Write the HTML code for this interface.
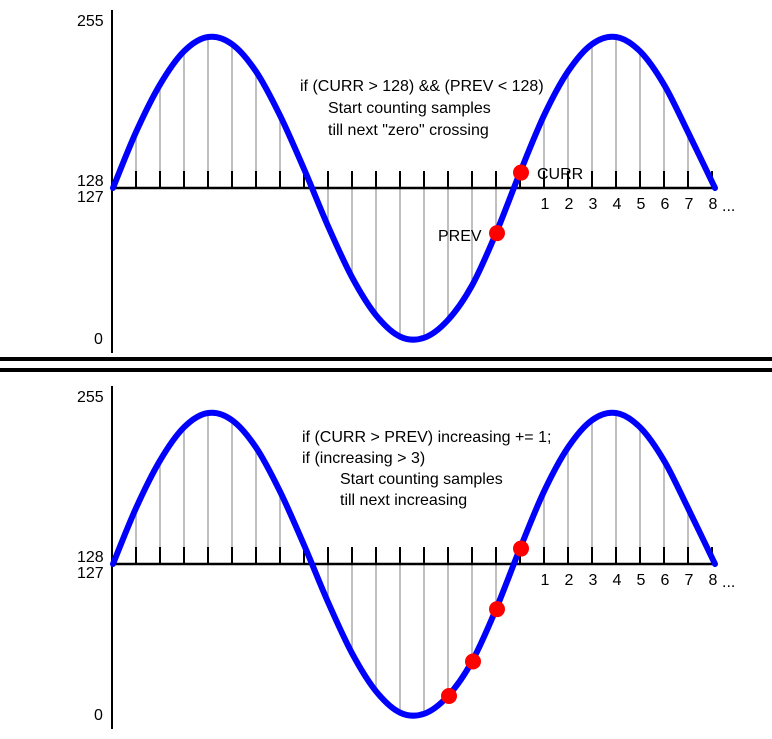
<!DOCTYPE html>
<html><head><meta charset="utf-8"><style>
body{margin:0;background:#fff;}
svg{display:block;font-family:"Liberation Sans",Arial,sans-serif;}
</style></head><body>
<svg id="c" width="772" height="739" viewBox="0 0 772 739">
<g>
<rect x="0" y="357" width="772" height="4" fill="#000"/>
<rect x="0" y="368" width="772" height="4" fill="#000"/>
</g>
</svg>
<script>
const sampleIndex=[0,1,2,3,4,5,6,7,8,9,10,11,12,13,14,15,16,17,18,19,20,21,22,23,24,25];
const sampleValues=[128,175,215,243,255,249,226,189,144,96,53,21,3,2,17,46,90,141,189,226,249,255,243,215,175,128];
const countLabels=["1","2","3","4","5","6","7","8"];
const topDots=[16,17];
const bottomDots=[14,15,16,17];
const topText=["if (CURR > 128) && (PREV < 128)","Start counting samples","till next \"zero\" crossing"];
const bottomText=["if (CURR > PREV) increasing += 1;","if (increasing > 3)","Start counting samples","till next increasing"];

const NS="http://www.w3.org/2000/svg";
const svg=document.getElementById('c');
function mk(t,a,p){const e=document.createElementNS(NS,t);for(const k in a)e.setAttribute(k,a[k]);(p||svg).appendChild(e);return e;}
const xs=i=>112+24*i;
function panel(off,name,dots,texts,textPos){
  const base=188+off;
  const ys=v=>base-(v-128)*151/127;
  const g=mk('g',{});
  
  
  sampleIndex.forEach(i=>{ if(i===0||i===25)return;
    const l=mk('line',{x1:xs(i),x2:xs(i),y1:base,y2:ys(sampleValues[i]),stroke:'#aaa','stroke-width':1.5},g);
    
    
  });
  sampleIndex.forEach(i=>{ if(i===0)return;
    const t=mk('line',{x1:xs(i),x2:xs(i),y1:base,y2:base-17,stroke:'#000','stroke-width':2},g);
    
    
  });
  const bl=mk('line',{x1:112,x2:714,y1:base,y2:base,stroke:'#000','stroke-width':2.5},g);
  
  
  const ax=mk('line',{x1:112,x2:112,y1:10+off,y2:353+off,stroke:'#000','stroke-width':2},g);
  
  
  const P=sampleIndex.map(i=>[xs(i)+(i===0?1:0)+(i===25?3:0),ys(sampleValues[i])]);
  let d='M'+P[0][0]+','+P[0][1];
  for(let i=0;i<P.length-1;i++){
    const p0=P[Math.max(0,i-1)],p1=P[i],p2=P[i+1],p3=P[Math.min(P.length-1,i+2)];
    d+=' C'+(p1[0]+(p2[0]-p0[0])/6)+','+(p1[1]+(p2[1]-p0[1])/6)+' '+(p2[0]-(p3[0]-p1[0])/6)+','+(p2[1]-(p3[1]-p1[1])/6)+' '+p2[0]+','+p2[1];
  }
  const cv=mk('path',{d:d,fill:'none',stroke:'#0000ff','stroke-width':6,'stroke-linecap':'round'},g);
  
  
  dots.forEach(i=>{
    const c=mk('circle',{cx:xs(i)+1,cy:ys(sampleValues[i]),r:8,fill:'#ff0000'},g);
    
    
  });
  const yl=[["255",77,26],["128",77,186],["127",77,202],["0",94,344]];
  yl.forEach(a=>{const t=mk('text',{x:a[1],y:a[2]+off,'font-size':16,fill:'#000'},g);t.textContent=a[0];
    
    });
  countLabels.forEach((s,k)=>{const t=mk('text',{x:xs(18+k)+1,y:base+21,'font-size':16,fill:'#000','text-anchor':'middle'},g);t.textContent=s;
    
    });
  const dt=mk('text',{x:722,y:base+23,'font-size':16,fill:'#000'},g);dt.textContent='...';
  
  
  texts.forEach((s,k)=>{const t=mk('text',{x:textPos[k][0],y:textPos[k][1]+off,'font-size':16,fill:'#000'},g);t.textContent=s;
    
    });
  return g;
}
panel(0,'top-panel',topDots,topText,[[300,91],[328,113],[328,135]]);
panel(376,'bottom-panel',bottomDots,bottomText,[[302,66],[302,87],[340,108],[340,129]]);
const l1=mk('text',{x:537,y:179,'font-size':16,fill:'#000'});l1.textContent='CURR';


const l2=mk('text',{x:438,y:241,'font-size':16,fill:'#000'});l2.textContent='PREV';


</script>
</body></html>
